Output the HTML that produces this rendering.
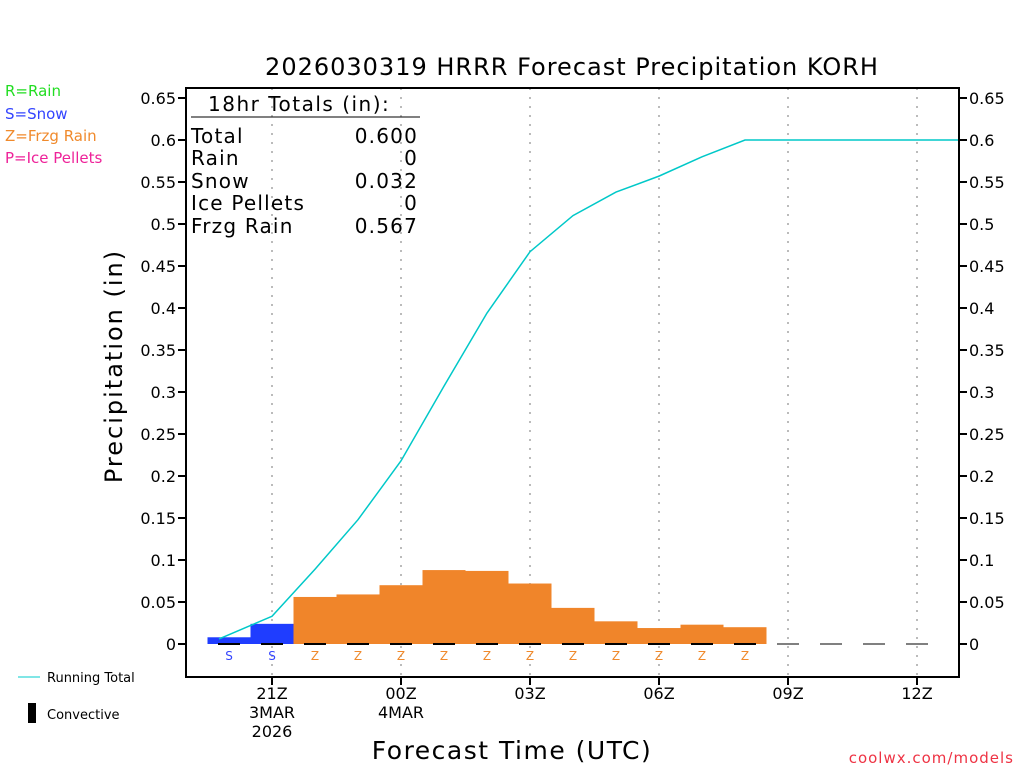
<!DOCTYPE html>
<html><head><meta charset="utf-8"><style>
body{margin:0;background:#fff}
svg text{font-family:"DejaVu Sans","Liberation Sans",sans-serif}
</style></head><body>
<svg id="c" width="1024" height="768" xmlns="http://www.w3.org/2000/svg">
<rect width="1024" height="768" fill="#fff"/>
<text x="572" y="75" font-size="24" text-anchor="middle" letter-spacing="1">2026030319 HRRR Forecast Precipitation KORH</text>
<g font-size="15">
<text x="5" y="96" fill="#22dd22">R=Rain</text>
<text x="5" y="119" fill="#3344ff">S=Snow</text>
<text x="5" y="141" fill="#f08a2c">Z=Frzg Rain</text>
<text x="5" y="163" fill="#ee2299">P=Ice Pellets</text>
</g>
<text transform="translate(122,366) rotate(-90)" font-size="24" text-anchor="middle" letter-spacing="2">Precipitation (in)</text>
<text x="512" y="759" font-size="25" text-anchor="middle" letter-spacing="1.5">Forecast Time (UTC)</text>
<text x="1014" y="763" font-size="15" fill="#ee3344" text-anchor="end" letter-spacing="1">coolwx.com/models</text>
<line x1="18" y1="677" x2="40" y2="677" stroke="#00cccc"/>
<text x="47" y="682" font-size="13">Running Total</text>
<rect x="28" y="703" width="8" height="20" fill="#000"/>
<text x="47" y="719" font-size="13">Convective</text>
<g id="grid"></g><g id="bars"></g><g id="line"></g><g id="axes"></g>
<g font-size="20" letter-spacing="1.2">
<text x="208" y="111" letter-spacing="1.5">18hr Totals (in):</text>
<line x1="191" y1="117" x2="420" y2="117" stroke="#000"/>
<text x="191" y="143">Total</text><text x="418" y="143" text-anchor="end">0.600</text>
<text x="191" y="165">Rain</text><text x="418" y="165" text-anchor="end">0</text>
<text x="191" y="188">Snow</text><text x="418" y="188" text-anchor="end">0.032</text>
<text x="191" y="210">Ice Pellets</text><text x="418" y="210" text-anchor="end">0</text>
<text x="191" y="233">Frzg Rain</text><text x="418" y="233" text-anchor="end">0.567</text>
</g>
</svg>
<script>
const hours=[20,21,22,23,24,25,26,27,28,29,30,31,32];
const barValues=[0.008,0.024,0.056,0.059,0.070,0.088,0.087,0.072,0.043,0.027,0.019,0.023,0.020];
const barTypes=["S","S","Z","Z","Z","Z","Z","Z","Z","Z","Z","Z","Z"];
const totalHours=[20,21,22,23,24,25,26,27,28,29,30,31,32,33,34,35,36,37];
const totalValues=[0.006,0.033,0.089,0.148,0.218,0.307,0.394,0.467,0.510,0.538,0.557,0.580,0.600,0.600,0.600,0.600,0.600,0.600];
const yTicks=[0,0.05,0.1,0.15,0.2,0.25,0.3,0.35,0.4,0.45,0.5,0.55,0.6,0.65];
const xTickHours=[21,24,27,30,33,36];
const xTickLabels=[["21Z","3MAR","2026"],["00Z","4MAR"],["03Z"],["06Z"],["09Z"],["12Z"]];
const dashHours=[20,21,22,23,24,25,26,27,28,29,30,31,32,33,34,35,36];
const L=186,R=959,T=88,B=677;
const X=h=>272+(h-21)*43, Y=v=>644-v*840;
const NS="http://www.w3.org/2000/svg";
function mk(p,t,a){const e=document.createElementNS(NS,t);for(const k in a)e.setAttribute(k,a[k]);document.getElementById(p).appendChild(e);return e;}
xTickHours.forEach((h,i)=>{const g=mk('grid','line',{x1:X(h),x2:X(h),y1:T,y2:B+8,stroke:'#bbb','stroke-width':2,'stroke-dasharray':'2,7'});


mk('axes','line',{x1:X(h),x2:X(h),y1:B,y2:B+8,stroke:'#000','stroke-width':2});
xTickLabels[i].forEach((s,j)=>{const t=mk('axes','text',{x:X(h),y:699+j*19,'font-size':16,'text-anchor':'middle'});t.textContent=s;

});});
hours.forEach((h,i)=>{const r=mk('bars','rect',{x:X(h)-21.5,y:Y(barValues[i]),width:43,height:644-Y(barValues[i]),fill:barTypes[i]=="S"?'#1f3dff':'#f0852a'});


const t=mk('bars','text',{x:X(h),y:660,'font-size':12,'text-anchor':'middle',fill:barTypes[i]=="S"?'#3344ff':'#f08a2c'});t.textContent=barTypes[i];

});
dashHours.forEach(h=>{const d=mk('bars','line',{x1:X(h)-11,x2:X(h)+11,y1:644,y2:644,stroke:'#000','stroke-width':h>32?1:2});

});
const pts=totalHours.map((h,i)=>[Math.min(X(h),R),Y(totalValues[i])]);pts[0][0]=219;
const pl=mk('line','polyline',{points:pts.map(p=>p.join(',')).join(' '),fill:'none',stroke:'#00c8c8','stroke-width':1.5});


const fr=mk('axes','rect',{x:L,y:T,width:R-L,height:B-T,fill:'none',stroke:'#000','stroke-width':2});


yTicks.forEach(v=>{mk('axes','line',{x1:L-8,x2:L,y1:Y(v),y2:Y(v),stroke:'#000','stroke-width':2});
mk('axes','line',{x1:R,x2:R+8,y1:Y(v),y2:Y(v),stroke:'#000','stroke-width':2});
const a=mk('axes','text',{x:L-10,y:Y(v)+6,'font-size':16,'text-anchor':'end'});a.textContent=String(v);


const b=mk('axes','text',{x:R+10,y:Y(v)+6,'font-size':16});b.textContent=String(v);

});
</script>
</body></html>
